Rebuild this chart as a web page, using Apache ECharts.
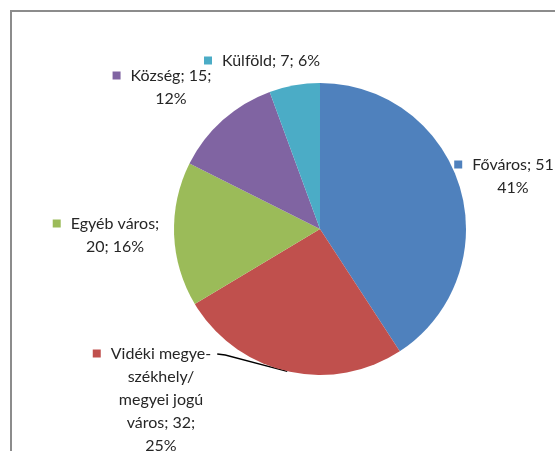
<!DOCTYPE html>
<html>
<head>
<meta charset="utf-8">
<script src="https://cdn.jsdelivr.net/npm/echarts@6/dist/echarts.min.js"></script>
<style>
    html, body { margin: 0; padding: 0; background: #fff; }
    #frame { position: absolute; left: 10px; top: 10px; width: 545px; height: 441px;
             border-left: 2px solid #8c8c8c; border-top: 2px solid #8c8c8c; }
    #main { position: absolute; left: 0; top: 0; width: 555px; height: 451px; }
</style>
</head>
<body>
<div id="frame"></div>
<div id="main"></div>
<script>
// adatok
var names = ["Főváros", "Vidéki megyeszékhely/megyei jogú város", "Egyéb város", "Község", "Külföld"];
var values = [51, 32, 20, 15, 7];
var percents = ["41%", "25%", "16%", "12%", "6%"];
var labelLines = [
    ["Főváros; 51", "41%"],
    ["Vidéki megye-", "székhely/", "megyei jogú", "város; 32;", "25%"],
    ["Egyéb város;", "20; 16%"],
    ["Község; 15;", "12%"],
    ["Külföld; 7; 6%"]
];
var colors = ["#4F81BD", "#C0504D", "#9BBB59", "#8064A2", "#4BACC6"];

// label helyek (szöveg közepe, első sor teteje)
var labelPos = [[513, 153], [161, 342], [115, 212], [171, 64], [271, 49]];
var padW = 18;

var dataList = [];
var rich = {
    t: { fontFamily: "Lato", fontSize: 16, color: "#262626", lineHeight: 23 },
    gap: { width: 10, lineHeight: 23 },
    pad: { width: padW, lineHeight: 23 }
};
for (var i = 0; i < names.length; i++) {
    rich["sq" + i] = { width: 8, height: 8, backgroundColor: colors[i] };
    dataList.push({
        name: names[i],
        value: values[i],
        itemStyle: { color: colors[i] },
        labelLine: { show: i == 1 }
    });
}

var myChart = echarts.init(document.getElementById("main"));
var option = {
    animation: false,
    series: [
        {
            type: "pie",
            center: [320, 229],
            radius: 146,
            startAngle: 90,
            clockwise: true,
            emphasis: { disabled: true },
            itemStyle: { borderWidth: 0 },
            label: {
                show: true,
                position: "outside",
                align: "center",
                overflow: "none",
                formatter: function (p) {
                    var lines = labelLines[p.dataIndex];
                    var s = "{sq" + p.dataIndex + "|}{gap|}{t|" + lines[0] + "}{pad|}";
                    for (var k = 1; k < lines.length; k++) {
                        s += "\n{t|" + lines[k] + "}";
                    }
                    return s;
                },
                rich: rich
            },
            labelLine: {
                show: false,
                lineStyle: { color: "#000", width: 1.3 }
            },
            labelLayout: function (params) {
                var pos = labelPos[params.dataIndex];
                var res = { x: pos[0], y: pos[1], align: "center", verticalAlign: "top" };
                if (params.labelLinePoints) {
                    // vonal: szelet közepétől az első sor végéig
                    var a = params.labelLinePoints[0];
                    var endX = pos[0] + params.labelRect.width / 2 - padW + 6;
                    var endY = pos[1] + 12;
                    res.labelLinePoints = [a, [endX + 8, endY + 1], [endX, endY]];
                }
                return res;
            },
            data: dataList
        }
    ]
};
myChart.setOption(option);
</script>
</body>
</html>
